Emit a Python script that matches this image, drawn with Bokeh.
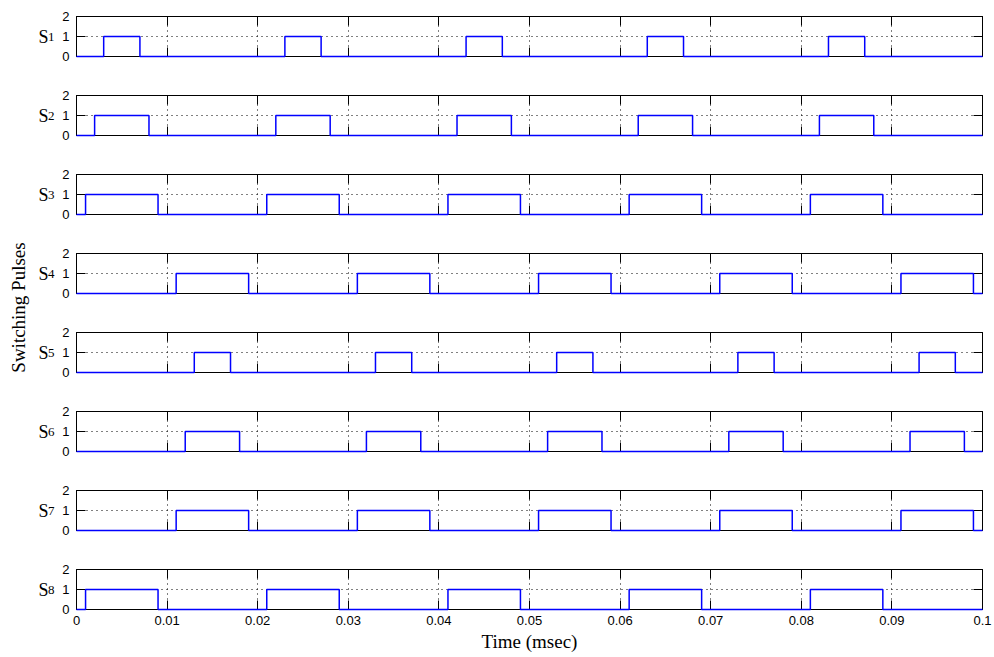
import math
from bokeh.plotting import figure
from bokeh.layouts import column, row
from bokeh.models import Label, LinearAxis, FixedTicker, Range1d
from bokeh.embed import file_html
from bokeh.resources import INLINE

# ---------------- data ----------------
time_ticks = [0, 0.01, 0.02, 0.03, 0.04, 0.05, 0.06, 0.07, 0.08, 0.09, 0.1]
time_tick_labels = ["0", "0.01", "0.02", "0.03", "0.04", "0.05", "0.06", "0.07", "0.08", "0.09", "0.1"]
level_ticks = [0, 1, 2]
level_tick_labels = ["0", "1", "2"]

switch_names = ["1", "2", "3", "4", "5", "6", "7", "8"]

S1_on = [0.003, 0.023, 0.043, 0.063, 0.083]
S1_off = [0.007, 0.027, 0.047, 0.067, 0.087]
S2_on = [0.002, 0.022, 0.042, 0.062, 0.082]
S2_off = [0.008, 0.028, 0.048, 0.068, 0.088]
S3_on = [0.001, 0.021, 0.041, 0.061, 0.081]
S3_off = [0.009, 0.029, 0.049, 0.069, 0.089]
S4_on = [0.011, 0.031, 0.051, 0.071, 0.091]
S4_off = [0.019, 0.039, 0.059, 0.079, 0.099]
S5_on = [0.013, 0.033, 0.053, 0.073, 0.093]
S5_off = [0.017, 0.037, 0.057, 0.077, 0.097]
S6_on = [0.012, 0.032, 0.052, 0.072, 0.092]
S6_off = [0.018, 0.038, 0.058, 0.078, 0.098]
S7_on = [0.011, 0.031, 0.051, 0.071, 0.091]
S7_off = [0.019, 0.039, 0.059, 0.079, 0.099]
S8_on = [0.001, 0.021, 0.041, 0.061, 0.081]
S8_off = [0.009, 0.029, 0.049, 0.069, 0.089]

pulses_on = [S1_on, S2_on, S3_on, S4_on, S5_on, S6_on, S7_on, S8_on]
pulses_off = [S1_off, S2_off, S3_off, S4_off, S5_off, S6_off, S7_off, S8_off]

t_start, t_end = 0.0, 0.1
x_title = "Time (msec)"
y_title = "Switching Pulses"

# ---------------- styling ----------------
SANS = "Liberation Sans"
SERIF = "Liberation Serif"
BLUE = "#0000FF"

FRAME_W, FRAME_H = 906, 40
LEFT_W = 31
FIRST_TOP, TOP_B, GAP_B = 16, 8, 31
LAST_B = 44
TOTAL_H = FIRST_TOP + 8 * FRAME_H + 7 * GAP_B + 7 * TOP_B + LAST_B


def step_trace(ons, offs):
    xs, ys = [t_start], [0]
    for a, b in zip(ons, offs):
        xs += [a, a, b, b]
        ys += [0, 1, 1, 0]
    xs.append(t_end)
    ys.append(0)
    return xs, ys


def hide_labels(ax):
    ax.major_label_text_font_size = "0px"
    ax.major_label_text_color = None
    ax.major_label_standoff = 0


def label_axis(text, size, standoff, baseline):
    ax = LinearAxis(ticker=FixedTicker(ticks=[]), axis_line_color=None,
                    major_tick_line_color=None, minor_tick_line_color=None,
                    major_tick_in=0, major_tick_out=0, minor_tick_in=0, minor_tick_out=0)
    hide_labels(ax)
    ax.axis_label = text
    ax.axis_label_orientation = "horizontal"
    ax.axis_label_text_font = SERIF
    ax.axis_label_text_font_size = size
    ax.axis_label_text_font_style = "normal"
    ax.axis_label_text_color = "black"
    ax.axis_label_text_baseline = baseline
    ax.axis_label_standoff = standoff
    return ax


figs = []
for k in range(8):
    last = (k == 7)
    p = figure(
        frame_width=FRAME_W, frame_height=FRAME_H,
        x_range=Range1d(t_start, t_end), y_range=Range1d(0, 2),
        output_backend="svg", toolbar_location=None,
        min_border_left=76 - LEFT_W, min_border_right=10,
        min_border_top=(FIRST_TOP if k == 0 else TOP_B),
        min_border_bottom=(LAST_B if last else GAP_B),
        background_fill_color="white", border_fill_color="white",
        outline_line_color="black", outline_line_width=1,
    )
    tick_x = FixedTicker(ticks=time_ticks)
    tick_y = FixedTicker(ticks=level_ticks)

    xa = p.xaxis[0]
    xa.ticker = tick_x
    xa.major_label_overrides = {t: l for t, l in zip(time_ticks, time_tick_labels)}
    xa.major_tick_in = 9
    xa.major_tick_out = 0
    xa.minor_tick_line_color = None
    xa.axis_line_color = "black"
    xa.major_tick_line_color = "black"
    if last:
        xa.major_label_text_font = SANS
        xa.major_label_text_font_size = "13px"
        xa.major_label_text_color = "black"
        xa.major_label_standoff = 6
        xa.axis_label = x_title
        xa.axis_label_text_font = SERIF
        xa.axis_label_text_font_size = "19px"
        xa.axis_label_text_font_style = "normal"
        xa.axis_label_text_color = "black"
        xa.axis_label_standoff = 3
    else:
        hide_labels(xa)

    ya = p.yaxis[0]
    ya.ticker = tick_y
    ya.major_label_overrides = {t: l for t, l in zip(level_ticks, level_tick_labels)}
    ya.major_tick_in = 9
    ya.major_tick_out = 0
    ya.minor_tick_line_color = None
    ya.major_label_text_font = SANS
    ya.major_label_text_font_size = "13px"
    ya.major_label_text_color = "black"
    ya.major_label_standoff = 7
    ya.axis_line_color = "black"

    # "S" with its subscript, as stacked horizontal axis labels left of the tick labels
    p.add_layout(label_axis(switch_names[k], "13px", 5, "top"), "left")
    p.add_layout(label_axis("S", "18px", -4, "middle"), "left")

    top = LinearAxis(ticker=FixedTicker(ticks=time_ticks), major_tick_in=9, major_tick_out=0,
                     minor_tick_line_color=None, axis_line_color="black")
    hide_labels(top)
    p.add_layout(top, "above")
    right = LinearAxis(ticker=FixedTicker(ticks=level_ticks), major_tick_in=9, major_tick_out=0,
                       minor_tick_line_color=None, axis_line_color="black")
    hide_labels(right)
    p.add_layout(right, "right")

    p.xgrid.ticker = tick_x
    p.ygrid.ticker = tick_y
    for g in (p.xgrid, p.ygrid):
        g.grid_line_color = "black"
        g.grid_line_dash = "1 4"
        g.grid_line_width = 1

    xs, ys = step_trace(pulses_on[k], pulses_off[k])
    p.line(xs, ys, line_color=BLUE, line_width=1.5, level="overlay")
    figs.append(p)

# left strip carrying the common y title
lf = figure(width=LEFT_W, height=TOTAL_H, x_range=Range1d(0, LEFT_W), y_range=Range1d(0, TOTAL_H),
            output_backend="svg", toolbar_location=None, min_border=0,
            outline_line_color=None, background_fill_color="white", border_fill_color="white")
lf.axis.visible = False
lf.grid.visible = False
lf.add_layout(Label(x=18, y=TOTAL_H - 307, text=y_title, angle=math.pi / 2,
                    text_font=SERIF, text_font_size="19px", text_color="black",
                    text_align="center", text_baseline="middle"))

layout = row(lf, column(*figs))
open("out.html", "w").write(file_html(layout, INLINE))
